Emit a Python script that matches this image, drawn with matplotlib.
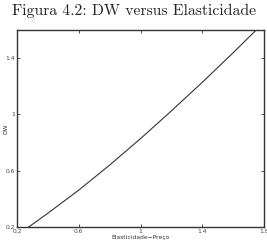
import matplotlib
matplotlib.use("Agg")
import matplotlib.pyplot as plt

# Data
elasticidade = [0.276, 0.4, 0.6, 0.8, 1.0, 1.2, 1.4, 1.6, 1.745]
dw = [0.2, 0.298, 0.462, 0.640, 0.828, 1.025, 1.228, 1.438, 1.595]
xticks = [0.2, 0.6, 1.0, 1.4, 1.8]
xticklabels = ["0.2", "0.6", "1", "1.4", "1.8"]
yticks = [0.2, 0.6, 1.0, 1.4]
yticklabels = ["0.2", "0.6", "1", "1.4"]

fig = plt.figure(figsize=(2.67, 2.52), dpi=100)
ax = fig.add_axes([17/267, 25/252, (264-17)/267, (227-30)/252])

ax.plot(elasticidade, dw, color="#333333", linewidth=0.8)
ax.set_xlim(0.2, 1.8)
ax.set_ylim(0.2, 1.6)
ax.set_xticks(xticks)
ax.set_xticklabels(xticklabels)
ax.set_yticks(yticks)
ax.set_yticklabels(yticklabels)
ax.tick_params(direction="in", length=2.5, width=0.6, labelsize=4.3,
               top=True, right=True, pad=1.5, colors="#333333",
               labelcolor="#444444")
for s in ax.spines.values():
    s.set_linewidth(1.0)
    s.set_color("#333333")

ax.set_xlabel("Elasticidade\u2212Preço", fontsize=4.3, labelpad=1, color="#333333")
ax.set_ylabel("DW", fontsize=4.3, labelpad=1, color="#333333")
ax.yaxis.set_label_coords(-0.035, 0.5)

fig.text(134/267, 1 - 11/252, "Figura 4.2: DW versus Elasticidade",
         ha="center", va="center", fontsize=11.3, family="cmr10", color="#222222")

fig.savefig("out.png", dpi=100)
